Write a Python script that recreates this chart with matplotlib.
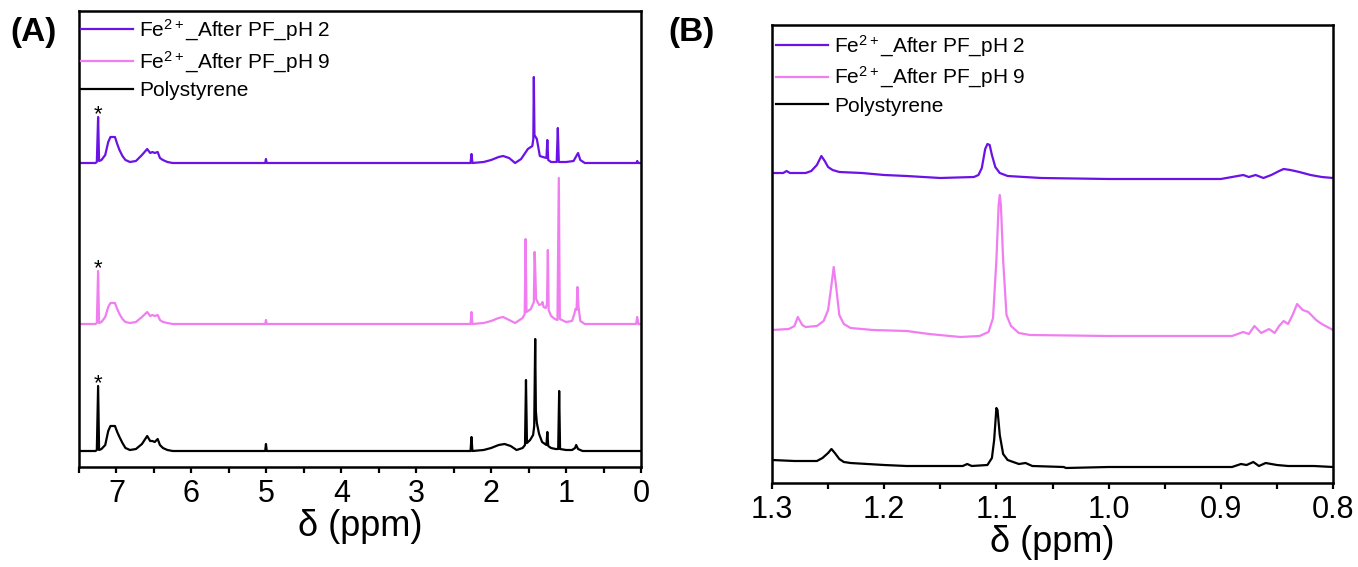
import numpy as np
import matplotlib
matplotlib.use("Agg")
import matplotlib.pyplot as plt
from matplotlib.ticker import MultipleLocator

plt.rcParams['font.family'] = ['Liberation Sans', 'DejaVu Sans']
plt.rcParams['mathtext.fontset'] = 'custom'
plt.rcParams['mathtext.rm'] = 'Liberation Sans'
plt.rcParams['mathtext.it'] = 'Liberation Sans:italic'

labels = ["Fe$^{2+}$_After PF_pH 2", "Fe$^{2+}$_After PF_pH 9", "Polystyrene"]
colors = ['#6B12E6', '#F07EF0', '#000000']

# panel A : (ppm, intensite au-dessus de la ligne de base)
a_ph2 = [(7.5, 0), (7.28, 0), (7.262, 1), (7.245, 46), (7.232, 2), (7.2, 3), (7.15, 8), (7.11, 21),
         (7.08, 26), (7.02, 26), (6.99, 19), (6.96, 13), (6.92, 7), (6.88, 3), (6.82, 1), (6.74, 2),
         (6.66, 8), (6.59, 14), (6.55, 10), (6.52, 11), (6.49, 10), (6.45, 11), (6.42, 5), (6.38, 3),
         (6.32, 1), (6.25, 0), (5.015, 0), (5.005, 4), (4.995, 0), (2.275, 0), (2.262, 9), (2.25, 0),
         (2.1, 1), (2.0, 3), (1.9, 6), (1.84, 7), (1.76, 5), (1.68, 0), (1.6, 4), (1.51, 14),
         (1.45, 17), (1.437, 24), (1.43, 86), (1.422, 28), (1.39, 24), (1.35, 7), (1.31, 6),
         (1.262, 5), (1.25, 23), (1.238, 3), (1.2, 1), (1.125, 1), (1.11, 35), (1.097, 1), (1.0, 1),
         (0.9, 2), (0.87, 6), (0.84, 10), (0.81, 3), (0.75, 0), (0.06, 0), (0.05, 2), (0.04, 0), (0.0, 0)]
a_ph9 = [(7.5, 0), (7.28, 0), (7.262, 1), (7.245, 53), (7.232, 1), (7.2, 2), (7.15, 7), (7.11, 17),
         (7.08, 21), (7.02, 21), (6.99, 15), (6.96, 10), (6.92, 5), (6.88, 2), (6.82, 1), (6.74, 2),
         (6.66, 7), (6.59, 12), (6.55, 8), (6.52, 9), (6.49, 8), (6.45, 9), (6.42, 4), (6.38, 2),
         (6.32, 1), (6.25, 0), (5.015, 0), (5.005, 4), (4.995, 0), (2.275, 0), (2.262, 12), (2.25, 0),
         (2.1, 1), (2.0, 3), (1.9, 6), (1.84, 7), (1.76, 4), (1.68, 1), (1.58, 6), (1.552, 10),
         (1.54, 85), (1.528, 12), (1.47, 15), (1.43, 22), (1.42, 72), (1.412, 57), (1.40, 25),
         (1.36, 19), (1.325, 20), (1.315, 22), (1.30, 17), (1.27, 16), (1.255, 20), (1.243, 74),
         (1.232, 14), (1.2, 8), (1.15, 5), (1.115, 4), (1.097, 146), (1.083, 5), (1.0, 2), (0.92, 3),
         (0.89, 10), (0.875, 15), (0.86, 14), (0.848, 37), (0.835, 18), (0.81, 3), (0.75, 0),
         (0.065, 0), (0.05, 7), (0.035, 0), (0.0, 0)]
a_ps = [(7.5, 0), (7.28, 0), (7.262, 1), (7.245, 65), (7.232, 1), (7.2, 2), (7.15, 6), (7.11, 20),
        (7.08, 25), (7.02, 25), (6.99, 19), (6.96, 14), (6.92, 8), (6.88, 3), (6.82, 1), (6.74, 2),
        (6.66, 7), (6.59, 15), (6.55, 10), (6.52, 10), (6.49, 9), (6.45, 12), (6.42, 6), (6.38, 3),
        (6.32, 1), (6.25, 0), (5.015, 0), (5.005, 7), (4.995, 0), (2.275, 0), (2.262, 14), (2.25, 0),
        (2.1, 1), (2.0, 3), (1.9, 6), (1.82, 7), (1.74, 5), (1.66, 1), (1.58, 3), (1.548, 6),
        (1.535, 71), (1.522, 8), (1.48, 11), (1.44, 16), (1.425, 25), (1.412, 112), (1.403, 40),
        (1.39, 28), (1.36, 17), (1.32, 9), (1.262, 6), (1.25, 19), (1.238, 5), (1.2, 3), (1.14, 2),
        (1.105, 2), (1.092, 60), (1.08, 2), (1.0, 1), (0.92, 1), (0.88, 3), (0.865, 6), (0.84, 2),
        (0.78, 0), (0.0, 0)]
a_offsets = [304, 143, 16]
a_star_h = [46, 53, 65]

# panel B
b_ph2 = [(1.30, 0), (1.29, 0), (1.287, 2), (1.284, 0), (1.27, 0), (1.265, 2), (1.260, 8), (1.256, 17),
         (1.253, 12), (1.250, 6), (1.246, 3), (1.24, 1), (1.22, 0), (1.2, -2), (1.18, -3), (1.15, -5),
         (1.12, -4), (1.116, -2), (1.113, 5), (1.110, 24), (1.108, 29), (1.106, 28), (1.104, 18),
         (1.101, 6), (1.097, 0), (1.09, -3), (1.06, -5), (1.0, -6), (0.95, -6), (0.9, -6), (0.89, -4),
         (0.88, -2), (0.875, -4), (0.869, -2), (0.862, -5), (0.855, -2), (0.848, 2), (0.844, 4),
         (0.838, 3), (0.83, 1), (0.82, -2), (0.81, -4), (0.80, -5)]
b_ph9 = [(1.30, 0), (1.285, 1), (1.280, 4), (1.277, 13), (1.273, 5), (1.27, 3), (1.26, 4), (1.254, 9),
         (1.250, 20), (1.247, 45), (1.245, 63), (1.243, 45), (1.240, 15), (1.236, 6), (1.23, 2),
         (1.21, 0), (1.18, -1), (1.16, -4), (1.132, -7), (1.115, -6), (1.107, -2), (1.103, 12),
         (1.100, 70), (1.098, 125), (1.097, 135), (1.096, 125), (1.094, 70), (1.091, 15), (1.087, 4),
         (1.08, -3), (1.07, -5), (1.0, -6), (0.95, -6), (0.89, -6), (0.880, -2), (0.875, -4),
         (0.870, 4), (0.864, -3), (0.857, 1), (0.852, -3), (0.848, 4), (0.844, 9), (0.840, 6),
         (0.836, 15), (0.832, 26), (0.827, 20), (0.822, 18), (0.815, 10), (0.81, 6), (0.80, 0)]
b_ps = [(1.30, 0), (1.28, -1), (1.26, -1), (1.255, 2), (1.25, 7), (1.247, 11), (1.244, 7), (1.240, 1),
        (1.236, -2), (1.23, -3), (1.2, -5), (1.18, -6), (1.13, -6), (1.126, -4), (1.122, -6),
        (1.108, -5), (1.104, 2), (1.102, 20), (1.100, 52), (1.099, 50), (1.097, 25), (1.094, 6),
        (1.09, 0), (1.08, -4), (1.074, -3), (1.068, -6), (1.04, -7), (1.038, -8), (1.0, -7),
        (0.95, -7), (0.89, -7), (0.882, -4), (0.877, -5), (0.871, -2), (0.866, -6), (0.860, -3),
        (0.85, -5), (0.84, -6), (0.817, -6), (0.80, -7)]
b_offsets = [310, 153, 23]

fig = plt.figure(figsize=(13.58, 5.67), dpi=100)
axA = fig.add_axes([79/1358, 1-467/567, (641-79)/1358, (467-11)/567])
axB = fig.add_axes([772/1358, 1-483/567, (1333-772)/1358, (483-25)/567])


def style(ax):
    for sp in ax.spines.values():
        sp.set_linewidth(1.8)
    ax.set_yticks([])
    ax.tick_params(axis='x', which='both', direction='out', length=4, width=1.6,
                   labelsize=22, pad=5, top=False)
    ax.set_xlabel("δ (ppm)", fontsize=26, labelpad=0)


for spec, off, c, lab in zip([a_ph2, a_ph9, a_ps], a_offsets, colors, labels):
    d = np.array(spec)
    axA.plot(d[:, 0], d[:, 1] + off, color=c, lw=1.6, label=lab)
for off, h in zip(a_offsets, a_star_h):
    axA.text(7.245, off + h + 2, "*", ha='center', va='center', fontsize=16)
axA.set_xlim(7.5, 0)
axA.set_ylim(0, 456)
axA.xaxis.set_major_locator(MultipleLocator(1))
axA.xaxis.set_minor_locator(MultipleLocator(0.5))
style(axA)
axA.legend(loc='upper left', bbox_to_anchor=(-0.012, 1.004), frameon=False, fontsize=15,
           handlelength=2.5, handletextpad=0.3, labelspacing=0.3, borderaxespad=0)

for spec, off, c, lab in zip([b_ph2, b_ph9, b_ps], b_offsets, colors, labels):
    d = np.array(spec)
    axB.plot(d[:, 0], d[:, 1] + off, color=c, lw=1.6, label=lab)
axB.set_xlim(1.3, 0.8)
axB.set_ylim(0, 458)
axB.xaxis.set_major_locator(MultipleLocator(0.1))
axB.xaxis.set_minor_locator(MultipleLocator(0.05))
axB.xaxis.set_major_formatter(matplotlib.ticker.FormatStrFormatter('%.1f'))
style(axB)
axB.legend(loc='upper left', bbox_to_anchor=(-0.008, 1.0), frameon=False, fontsize=15,
           handlelength=2.5, handletextpad=0.3, labelspacing=0.3, borderaxespad=0)

fig.text(10/1358, 1-32/567, "(A)", fontsize=24, fontweight='bold', va='center', ha='left')
fig.text(668/1358, 1-32/567, "(B)", fontsize=24, fontweight='bold', va='center', ha='left')

fig.savefig("out.png", dpi=100)
